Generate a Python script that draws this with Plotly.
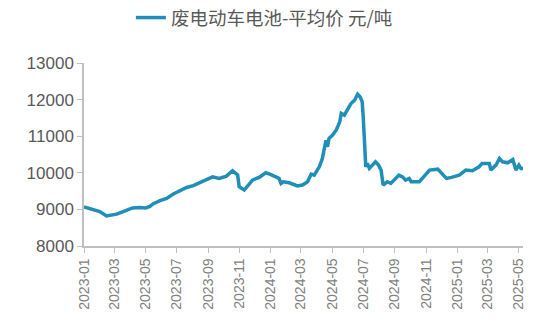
import plotly.graph_objects as go

# Average price of scrap EV batteries, yuan/ton
dates = [
    "2023-01-01", "2023-01-15", "2023-02-01", "2023-02-14", "2023-02-25", "2023-03-06",
    "2023-03-15", "2023-03-25", "2023-04-06", "2023-04-20", "2023-05-02", "2023-05-10",
    "2023-05-16", "2023-05-30", "2023-06-12", "2023-06-25", "2023-07-08", "2023-07-21",
    "2023-08-03", "2023-08-16", "2023-08-28", "2023-09-10", "2023-09-23", "2023-10-07",
    "2023-10-19", "2023-10-29", "2023-11-01", "2023-11-11", "2023-11-27", "2023-12-10",
    "2023-12-23", "2023-12-31", "2024-01-18", "2024-01-22", "2024-01-26", "2024-02-07",
    "2024-02-23", "2024-03-04", "2024-03-14", "2024-03-21", "2024-03-27", "2024-04-06",
    "2024-04-12", "2024-04-16", "2024-04-19", "2024-04-22", "2024-04-25", "2024-05-02",
    "2024-05-09", "2024-05-16", "2024-05-19", "2024-05-25", "2024-06-01", "2024-06-07",
    "2024-06-14", "2024-06-20", "2024-06-25", "2024-06-29", "2024-07-01", "2024-07-04",
    "2024-07-06", "2024-07-09", "2024-07-13", "2024-07-19", "2024-07-25", "2024-07-31",
    "2024-08-05", "2024-08-09", "2024-08-17", "2024-08-24", "2024-09-09", "2024-09-16",
    "2024-09-22", "2024-09-29", "2024-10-03", "2024-10-19", "2024-11-08", "2024-11-24",
    "2024-12-04", "2024-12-11", "2024-12-21", "2025-01-05", "2025-01-18", "2025-01-31",
    "2025-02-13", "2025-02-19", "2025-03-05", "2025-03-08", "2025-03-18", "2025-03-25",
    "2025-03-31", "2025-04-10", "2025-04-20", "2025-04-26", "2025-05-02", "2025-05-06",
    "2025-05-10",
]
prices = [
    9070, 9000, 8940, 8820, 8850, 8870,
    8920, 8980, 9040, 9050, 9040, 9080,
    9150, 9240, 9300, 9420, 9500, 9600,
    9650, 9740, 9820, 9890, 9845, 9910,
    10055, 9940, 9620, 9530, 9800, 9875,
    10000, 9965, 9850, 9710, 9755, 9727,
    9640, 9665, 9755, 9965, 9937, 10164,
    10393, 10710, 10890, 10710, 10940, 11030,
    11165, 11390, 11620, 11575, 11757, 11893,
    11983, 12147, 12073, 11936, 11527, 10619,
    10164, 10256, 10120, 10210, 10300, 10210,
    10074, 9665, 9755, 9710, 9937, 9890,
    9800, 9845, 9755, 9755, 10074, 10100,
    9937, 9847, 9875, 9937, 10074, 10055,
    10164, 10256, 10256, 10074, 10210, 10393,
    10300, 10273, 10365, 10074, 10210, 10120,
    10120,
]
series_name = "废电动车电池-平均价 元/吨"
tick_dates = [
    "2023-01-01", "2023-03-01", "2023-05-01", "2023-07-01", "2023-09-01", "2023-11-01",
    "2024-01-01", "2024-03-01", "2024-05-01", "2024-07-01", "2024-09-01", "2024-11-01",
    "2025-01-01", "2025-03-01", "2025-05-01",
]
tick_labels = [d[:7] for d in tick_dates]
y_ticks = [8000, 9000, 10000, 11000, 12000, 13000]
y_labels = [str(v) for v in y_ticks]

fig = go.Figure()
fig.add_trace(go.Scatter(
    x=dates, y=prices, mode="lines", name=series_name,
    line=dict(color="#1F8FB8", width=3.5),
))

axis_gray = "#BFBFBF"
fig.update_layout(
    width=550, height=328,
    margin=dict(l=84, r=27, t=63, b=82, autoexpand=False),
    paper_bgcolor="white", plot_bgcolor="white",
    font=dict(family="Liberation Sans, Noto Sans CJK SC", color="#595959"),
    showlegend=True,
    legend=dict(
        orientation="h", xref="container", yref="container",
        x=0.238, xanchor="left", y=0.945, yanchor="middle",
        font=dict(size=18.5, color="#595959", family="Noto Sans CJK SC"),
        bgcolor="rgba(0,0,0,0)",
    ),
    xaxis=dict(
        type="date", range=["2023-01-01", "2025-05-10"],
        tickvals=tick_dates, ticktext=tick_labels, tickangle=-90,
        tickfont=dict(size=14, color="#7F7F7F"),
        showgrid=False, zeroline=False,
        showline=True, linecolor=axis_gray, linewidth=1.5,
        ticks="outside", ticklen=5, tickcolor=axis_gray,
    ),
    yaxis=dict(
        range=[8000, 13000], tickvals=y_ticks, ticktext=y_labels,
        tickfont=dict(size=17, color="#595959"),
        showgrid=False, zeroline=False,
        showline=True, linecolor=axis_gray, linewidth=1.5,
        ticks="outside", ticklen=5, tickcolor=axis_gray,
    ),
)

fig.write_html("out.html")
